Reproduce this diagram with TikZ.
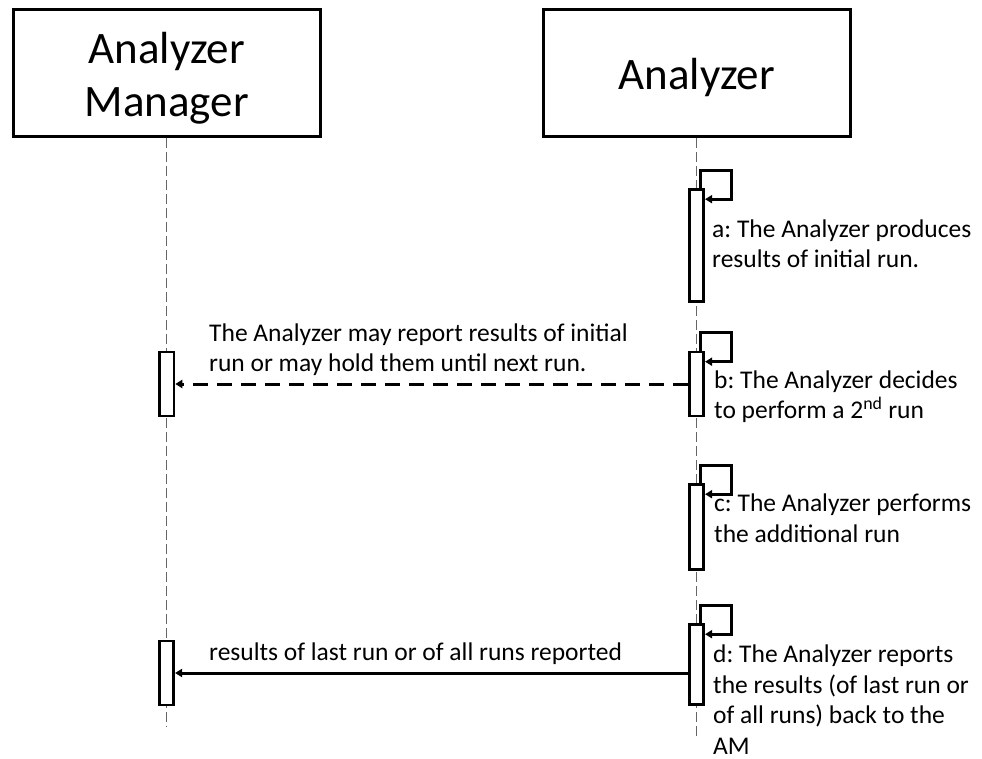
\documentclass[tikz,border=0pt]{standalone}
\usepackage{fontspec}
\setmainfont{Carlito}
\usetikzlibrary{arrows.meta}
\frenchspacing
\begin{document}
\begin{tikzpicture}[x=1pt,y=-1pt,
  actor/.style={draw=black, line width=2.6pt, fill=white, minimum width=307pt, minimum height=127pt, inner sep=0pt},
  bar/.style={draw=black, line width=2.6pt, fill=white, minimum width=14.5pt, inner sep=0pt},
  lifeline/.style={draw=black!60, line width=1pt, dash pattern=on 10pt off 4pt},
  head/.style={font=\fontsize{45}{53.5}\selectfont, inner sep=0pt, anchor=base},
  lbl/.style={font=\fontsize{25.5}{30.5}\selectfont, inner sep=0pt, anchor=base west},
  selfloop/.style={line width=3pt, -{Triangle[length=7pt,width=8pt]}},
  msg/.style={line width=3pt, -{Triangle[length=7pt,width=8pt]}},
  ]
\useasboundingbox (0,0) rectangle (982,759);
% actors
\node[actor] (am) at (166.7,73) {};
\node[actor] (an) at (696.7,73) {};
\node[head] (amt) at (166.7,63.3) {\begin{tabular}[t]{@{}c@{}}Analyzer\\Manager\end{tabular}};
\node[head] (ant) at (696.7,89.3) {Analyzer};
% lifelines
\coordinate (amend) at (166.7,727);
\coordinate (anend) at (696.7,737);
\draw[lifeline] (am.south) -- (amend);
\draw[lifeline] (an.south) -- (anend);
% activation bars
\node[bar, minimum height=64pt] (am1) at (166.7,384) {};
\node[bar, minimum height=64pt] (am2) at (166.5,673) {};
\node[bar, minimum height=112pt] (ba) at (696.5,245.5) {};
\node[bar, minimum height=64pt] (bb) at (696.5,384) {};
\node[bar, minimum height=85pt] (bc) at (696.5,527) {};
\node[bar, minimum height=80pt] (bd) at (696.5,664.5) {};
% self loops
\draw[selfloop] ([xshift=4.2pt]ba.north) |- ([xshift=35.2pt,yshift=18pt]ba.north) |- ([yshift=-11pt]ba.north east);
\draw[selfloop] ([xshift=4.2pt]bb.north) |- ([xshift=35.2pt,yshift=18pt]bb.north) |- ([yshift=-11pt]bb.north east);
\draw[selfloop] ([xshift=4.2pt]bc.north) |- ([xshift=35.2pt,yshift=18pt]bc.north) |- ([yshift=-11pt]bc.north east);
\draw[selfloop] ([xshift=4.2pt]bd.north) |- ([xshift=35.2pt,yshift=18pt]bd.north) |- ([yshift=-11pt]bd.north east);
% messages
\draw[msg, dash pattern=on 15pt off 9pt] (bb.west) -- (am1.east);
\draw[msg] (bd.west |- am2.east) -- (am2.east);
% labels
\node[lbl] (la) at (712,237.3) {\begin{tabular}[t]{@{}l@{}}a: The Analyzer produces\\results of initial run.\end{tabular}};
\node[lbl] (lm1) at (209,341) {\begin{tabular}[t]{@{}l@{}}The Analyzer may report results of initial\\run or may hold them until next run.\end{tabular}};
\node[lbl] (lb) at (714,388.3) {\begin{tabular}[t]{@{}l@{}}b: The Analyzer decides\\to perform a 2\textsuperscript{nd} run\end{tabular}};
\node[lbl] (lc) at (714,511.7) {\begin{tabular}[t]{@{}l@{}}c: The Analyzer performs\\the additional run\end{tabular}};
\node[lbl] (ld) at (713,662.5) {\begin{tabular}[t]{@{}l@{}}d: The Analyzer reports\\the results (of last run or\\of all runs) back to the\\AM\end{tabular}};
\node[lbl] (lm2) at (209,660) {results of last run or of all runs reported};
\end{tikzpicture}
\end{document}
